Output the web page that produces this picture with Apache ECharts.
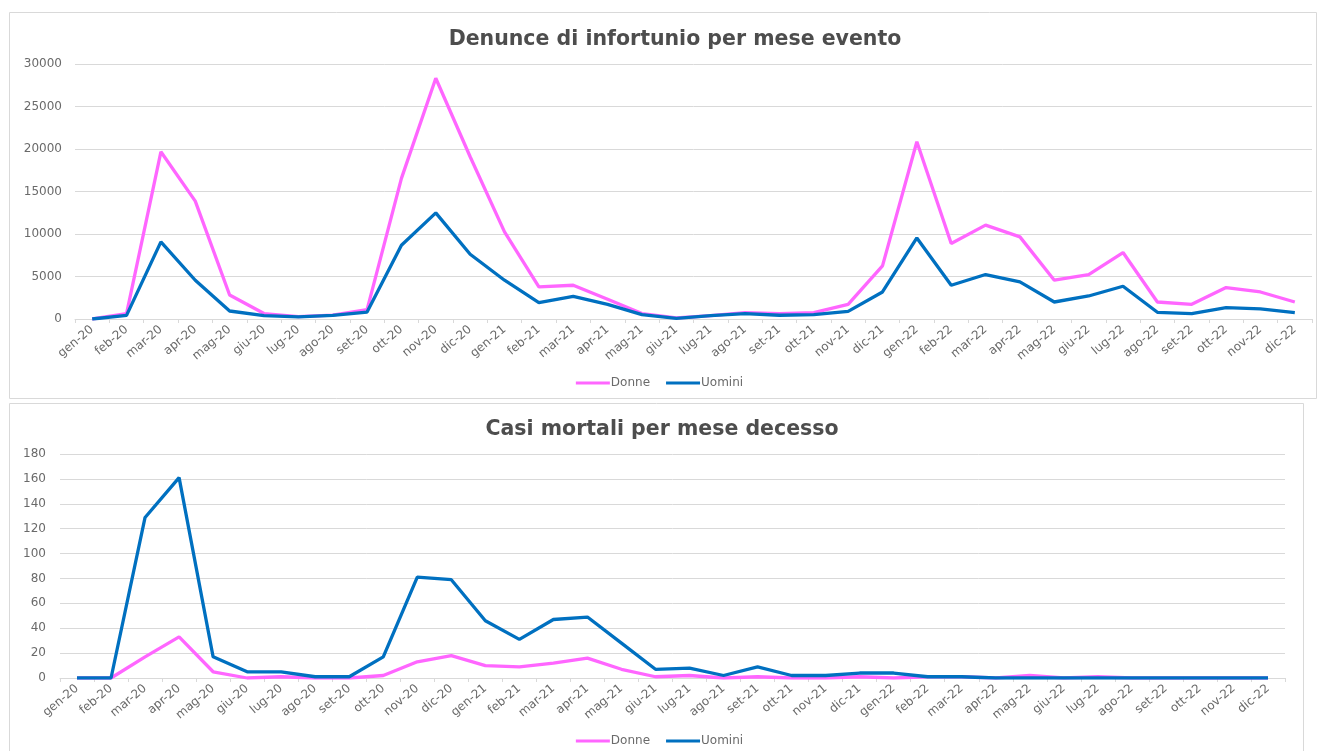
<!DOCTYPE html>
<html>
<head>
<meta charset="utf-8">
<script src="https://cdn.jsdelivr.net/npm/echarts@6/dist/echarts.min.js"></script>
<style>
  html, body { margin: 0; padding: 0; background: #fff; }
  #main { width: 1319px; height: 751px; }
</style>
</head>
<body>
<div id="main"></div>
<script>
  var months = ['gen-20', 'feb-20', 'mar-20', 'apr-20', 'mag-20', 'giu-20', 'lug-20', 'ago-20', 'set-20', 'ott-20', 'nov-20', 'dic-20',
    'gen-21', 'feb-21', 'mar-21', 'apr-21', 'mag-21', 'giu-21', 'lug-21', 'ago-21', 'set-21', 'ott-21', 'nov-21', 'dic-21',
    'gen-22', 'feb-22', 'mar-22', 'apr-22', 'mag-22', 'giu-22', 'lug-22', 'ago-22', 'set-22', 'ott-22', 'nov-22', 'dic-22']

  // Denunce di infortunio per mese evento
  var denunceDonne = [0, 640, 19670, 13870, 2830, 640, 280, 450, 1100, 16540, 28320, 19090,
    10250, 3770, 3970, 2320, 640, 120, 400, 750, 640, 750, 1730, 6250,
    20850, 8880, 11040, 9660, 4560, 5230, 7820, 2000, 1730, 3700, 3180, 2000]
  var denunceUomini = [0, 430, 9070, 4560, 940, 400, 250, 420, 820, 8680, 12490, 7620,
    4560, 1930, 2670, 1730, 520, 80, 400, 640, 440, 520, 900, 3180,
    9540, 3970, 5230, 4360, 2000, 2710, 3850, 790, 640, 1340, 1180, 750]

  // Casi mortali per mese decesso
  var mortaliDonne = [0, 0, 17, 33, 5, 0, 1, 0, 0, 2, 13, 18,
    10, 9, 12, 16, 7, 1, 2, 0, 1, 0, 0, 1,
    0, 1, 1, 0, 2, 0, 1, 0, 0, 0, 0, 0]
  var mortaliUomini = [0, 0, 129, 161, 17, 5, 5, 1, 1, 17, 81, 79,
    46, 31, 47, 49, 28, 7, 8, 2, 9, 2, 2, 4,
    4, 1, 1, 0, 0, 0, 0, 0, 0, 0, 0, 0]

  var pink = '#FF66FF'
  var blue = '#0070C0'
  var grey = '#6a6a6a'
  var titleGrey = '#4d4d4d'
  var lineGrey = '#D9D9D9'
  var font = 'DejaVu Sans'

  function xAxis (gridIndex) {
    return {
      type: 'category',
      gridIndex: gridIndex,
      data: months,
      boundaryGap: true,
      axisLine: { lineStyle: { color: lineGrey } },
      axisTick: { show: true, length: 4, lineStyle: { color: lineGrey } },
      axisLabel: { interval: 0, rotate: 40, margin: 9, color: grey, fontSize: 12, fontFamily: font }
    }
  }

  function yAxis (gridIndex, max, interval, margin) {
    return {
      type: 'value',
      gridIndex: gridIndex,
      min: 0,
      max: max,
      interval: interval,
      axisLine: { show: false },
      axisTick: { show: false },
      splitLine: { lineStyle: { color: lineGrey, width: 1 } },
      axisLabel: {
        margin: margin, color: grey, fontSize: 12, fontFamily: font,
        formatter: function (v) { return String(v) }
      }
    }
  }

  function line (name, data, color, idx) {
    return {
      name: name,
      type: 'line',
      xAxisIndex: idx,
      yAxisIndex: idx,
      data: data,
      symbol: 'none',
      smooth: false,
      lineStyle: { color: color, width: 3.3 },
      itemStyle: { color: color }
    }
  }

  var legendBase = {
    icon: 'rect',
    itemWidth: 34,
    itemHeight: 3,
    itemGap: 16,
    textStyle: { color: grey, fontSize: 12, fontFamily: font, padding: [0, 0, 0, -4] },
    data: ['Donne', 'Uomini']
  }

  var chart = echarts.init(document.getElementById('main'))
  var option = {
    animation: false,
    title: [
      {
        text: 'Denunce di infortunio per mese evento',
        left: 670, top: 24, textAlign: 'center',
        textStyle: { color: titleGrey, fontSize: 20.5, fontWeight: 'bold', fontFamily: font }
      },
      {
        text: 'Casi mortali per mese decesso',
        left: 657, top: 414, textAlign: 'center',
        textStyle: { color: titleGrey, fontSize: 20.5, fontWeight: 'bold', fontFamily: font }
      }
    ],
    legend: [
      Object.assign({}, legendBase, { left: 'center', top: 372 }),
      Object.assign({}, legendBase, { left: 'center', top: 730 })
    ],
    graphic: [
      { type: 'rect', shape: { x: 9.5, y: 12.5, width: 1307, height: 386 }, style: { fill: 'none', stroke: lineGrey, lineWidth: 1 }, z: -1 },
      { type: 'rect', shape: { x: 9.5, y: 403.5, width: 1294, height: 400 }, style: { fill: 'none', stroke: lineGrey, lineWidth: 1 }, z: -1 }
    ],
    grid: [
      { left: 75, right: 7, top: 64, height: 255 },
      { left: 60, width: 1225, top: 454, height: 224 }
    ],
    xAxis: [xAxis(0), xAxis(1)],
    yAxis: [yAxis(0, 30000, 5000, 13), yAxis(1, 180, 20, 14)],
    series: [
      line('Donne', denunceDonne, pink, 0),
      line('Uomini', denunceUomini, blue, 0),
      line('Donne', mortaliDonne, pink, 1),
      line('Uomini', mortaliUomini, blue, 1)
    ]
  }
  chart.setOption(option)
</script>
</body>
</html>
